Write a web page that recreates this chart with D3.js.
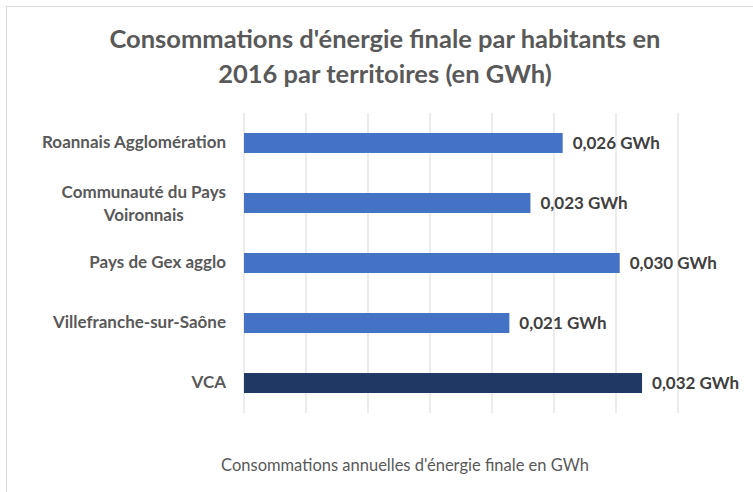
<!DOCTYPE html>
<html>
<head>
<meta charset="utf-8">
<script src="https://cdn.jsdelivr.net/npm/d3@7"></script>
<style>
  body { margin: 0; background: #fff; }
  text { font-family: Lato, "Liberation Sans", sans-serif; }
</style>
</head>
<body>
<div id="chart"></div>
<script>
const territoires = ["Roannais Agglomération", "Communauté du Pays Voironnais", "Pays de Gex agglo", "Villefranche-sur-Saône", "VCA"];
const consommations = [0.0257, 0.0231, 0.0303, 0.0214, 0.0321];
const etiquettes = ["0,026 GWh", "0,023 GWh", "0,030 GWh", "0,021 GWh", "0,032 GWh"];
const gridTicks = [0, 0.005, 0.01, 0.015, 0.02, 0.025, 0.03, 0.035];

const width = 753, height = 492;
const margin = { top: 113, left: 244, right: 75, bottom: 79 };

const svg = d3.select("#chart").append("svg")
    .attr("width", width)
    .attr("height", height);

svg.append("rect")
   .attr("x", 6.5).attr("y", 6.5)
   .attr("width", 800).attr("height", 600)
   .attr("fill", "#fff")
   .attr("stroke", "#d9d9d9");

const x = d3.scaleLinear().domain([0, 0.035]).range([margin.left, width - margin.right]);
const y = d3.scaleBand().domain(territoires).range([margin.top, height - margin.bottom]).paddingInner(0.667).paddingOuter(0.333);

// gridlines
svg.append("g")
   .selectAll("line")
   .data(gridTicks)
   .enter().append("line")
   .attr("x1", d => x(d)).attr("x2", d => x(d))
   .attr("y1", margin.top).attr("y2", height - margin.bottom)
   .attr("stroke", "#d9d9d9")
   .attr("stroke-width", 1);

svg.selectAll("rect.bar")
   .data(territoires)
   .enter().append("rect")
   .attr("class", "bar")
   .attr("x", x(0))
   .attr("y", d => y(d))
   .attr("width", (d, i) => x(consommations[i]) - x(0))
   .attr("height", y.bandwidth())
   .attr("fill", d => d === "VCA" ? "#203864" : "#4472c4");

// category labels
const yAxis = svg.append("g")
   .attr("transform", `translate(${margin.left},0)`)
   .call(d3.axisLeft(y).tickSize(0).tickPadding(18));
yAxis.select(".domain").remove();
yAxis.selectAll("text")
   .attr("font-size", 17)
   .attr("font-weight", "bold")
   .attr("fill", "#595959")
   .attr("font-family", "Lato, sans-serif")
   .each(function(d) {
     const t = d3.select(this);
     if (d === "Communauté du Pays Voironnais") {
       t.text(null);
       const l1 = t.append("tspan").attr("x", -18).attr("dy", "-0.3em").text("Communauté du Pays");
       const w = l1.node().getComputedTextLength();
       t.append("tspan").attr("x", -18 - w / 2).attr("dy", "1.35em").attr("text-anchor", "middle").text("Voironnais");
     }
   });

// value labels
svg.selectAll("text.val")
   .data(territoires)
   .enter().append("text")
   .attr("class", "val")
   .attr("x", (d, i) => x(consommations[i]) + 10)
   .attr("y", d => y(d) + y.bandwidth() / 2)
   .attr("dy", "0.35em")
   .attr("font-size", 17)
   .attr("font-weight", "bold")
   .attr("fill", "#404040")
   .text((d, i) => etiquettes[i]);

// title
const title = svg.append("text")
   .attr("x", 385).attr("y", 48)
   .attr("text-anchor", "middle")
   .attr("font-size", 25.5)
   .attr("font-weight", "bold")
   .attr("fill", "#595959");
title.append("tspan").attr("x", 385).text("Consommations d'énergie finale par habitants en");
title.append("tspan").attr("x", 385).attr("dy", 35).text("2016 par territoires (en GWh)");

svg.append("text")
   .attr("x", 405).attr("y", 471)
   .attr("text-anchor", "middle")
   .attr("font-size", 16.5)
   .attr("fill", "#595959")
   .text("Consommations annuelles d'énergie finale en GWh");
</script>
</body>
</html>
